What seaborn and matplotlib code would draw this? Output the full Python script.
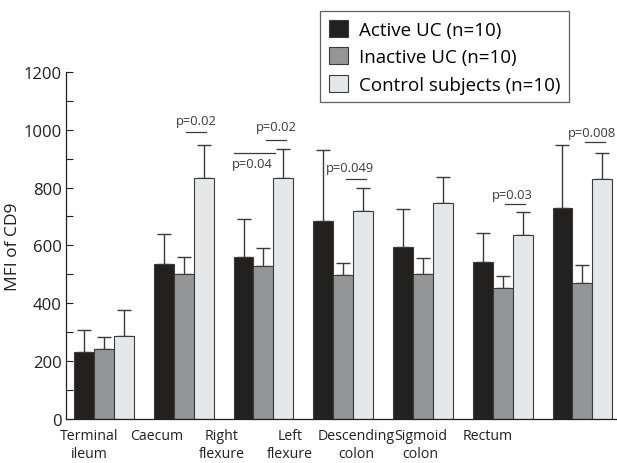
import numpy as np
import pandas as pd
import seaborn as sns
import matplotlib.pyplot as plt
from matplotlib.ticker import MultipleLocator

# data
regions = ["Terminal\nileum", "Caecum", "Right\nflexure", "Left\nflexure",
           "Descending\ncolon", "Sigmoid\ncolon", "Rectum"]
groups = ["Active UC (n=10)", "Inactive UC (n=10)", "Control subjects (n=10)"]
active = [230, 537, 560, 686, 593, 543, 730]
inactive = [242, 500, 527, 496, 500, 453, 470]
control = [285, 834, 833, 720, 745, 635, 831]
active_sd = [78, 102, 132, 245, 134, 100, 216]
inactive_sd = [40, 60, 64, 43, 56, 42, 62]
control_sd = [93, 114, 100, 80, 90, 80, 90]

# p value annotations: (region index, text, line y, text y, text x shift)
p_notes = [
    (1, "p=0.02", 992, 1033, 0.0),
    (2, "p=0.02", 965, 1010, 0.0),
    (3, "p=0.049", 829, 869, -0.07),
    (5, "p=0.03", 743, 777, -0.03),
    (6, "p=0.008", 956, 992, -0.04),
]
p_long = (2, "p=0.04", 921, 882)

colors = ["#231f20", "#939598", "#e6e7e8"]

df = pd.DataFrame({
    "region": np.tile(regions, 3),
    "group": np.repeat(groups, len(regions)),
    "mfi": active + inactive + control,
})

plt.rcParams["font.family"] = ["Open Sans", "DejaVu Sans"]

fig = plt.figure(figsize=(6.17, 4.64), dpi=100)
ax = fig.add_axes([0.1065, 0.095, 0.893, 0.748])

sns.barplot(data=df, x="region", y="mfi", hue="group", palette=colors,
            width=0.75, gap=0, errorbar=None, edgecolor="#3a3a3a",
            linewidth=0.8, ax=ax, zorder=2)

# upward error bars on each bar
sds = [active_sd, inactive_sd, control_sd]
centers = []
for cont, sd in zip(ax.containers, sds):
    xs = [p.get_x() + p.get_width() / 2 for p in cont.patches]
    hs = [p.get_height() for p in cont.patches]
    centers.append(xs)
    ax.errorbar(xs, hs, yerr=[np.zeros(len(sd)), sd], fmt="none",
                ecolor="#3a3a3a", elinewidth=1, capsize=5, capthick=1, zorder=1)

for i, txt, ly, ty, dx in p_notes:
    x0 = centers[1][i] + 0.03
    x1 = centers[2][i] + 0.03
    ax.plot([x0, x1], [ly, ly], color="#3a3a3a", lw=0.9)
    ax.text((x0 + x1) / 2 + dx, ty, txt, ha="center", va="center", fontsize=9.3,
            color="#3a3a3a")

i, txt, ly, ty = p_long
x0 = centers[0][i] - 0.125
x1 = centers[2][i] - 0.1
ax.plot([x0, x1], [ly, ly], color="#3a3a3a", lw=0.9)
ax.text((x0 + x1) / 2 - 0.03, ty, txt, ha="center", va="center", fontsize=9.3,
        color="#3a3a3a")

ax.set_ylim(0, 1200)
ax.set_xlim(-0.48, 6.43)
ax.yaxis.set_major_locator(MultipleLocator(200))
ax.yaxis.set_minor_locator(MultipleLocator(100))
ax.tick_params(axis="y", which="both", direction="in", length=5, width=0.8,
               labelsize=12, colors="#231f20", pad=3)
ax.tick_params(axis="x", length=0, labelsize=10.2, pad=6.5, colors="#231f20")

# labels sit left of the groups in the reference
label_pos = [-0.19, 0.66, 1.48, 2.33, 3.16, 3.97, 4.81]
ax.set_xticks(label_pos)
ax.set_xticklabels(regions, linespacing=1.3)
ax.set_xlabel("")
ax.set_ylabel("MFI of CD9", fontsize=12.5, color="#231f20", labelpad=2)

for s in ["top", "right"]:
    ax.spines[s].set_visible(False)
for s in ["left", "bottom"]:
    ax.spines[s].set_linewidth(0.9)
    ax.spines[s].set_color("#231f20")

handles, labels = ax.get_legend_handles_labels()
ax.legend_.remove()
leg = fig.legend(handles, labels, loc="upper left", bbox_to_anchor=(0.519, 0.974),
                 frameon=True, fancybox=False, fontsize=13.5, handlelength=1.05,
                 handleheight=1.05, handletextpad=0.55, labelspacing=0.45,
                 borderpad=0.45, borderaxespad=0, edgecolor="#3a3a3a")
leg.get_frame().set_linewidth(0.9)

fig.savefig("out.png", dpi=100)
